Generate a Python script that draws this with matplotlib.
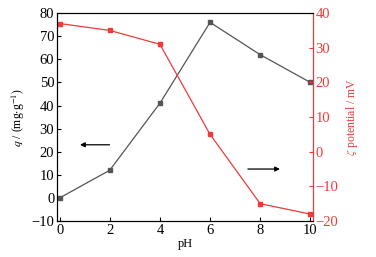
import matplotlib
matplotlib.use('Agg')
from matplotlib import pyplot as plt

plt.rcParams['font.family'] = ['Liberation Serif', 'DejaVu Serif']
plt.rcParams['mathtext.fontset'] = 'stix'

ph = [0, 2, 4, 6, 8, 10]
q = [0, 12, 41, 76, 62, 50]          # adsorption capacity, mg/g
zeta = [37, 35, 31, 5, -15, -18]     # zeta potential, mV

red = '#ee3b3b'
gray = '#555555'
fs = 10.5
lfs = 8.5

fig = plt.figure(figsize=(3.76, 2.57), dpi=100)
ax = fig.add_axes([0.152, 0.140, 0.680, 0.809])
ax.plot(ph, q, color=gray, lw=0.9, marker='s', ms=3.5, mfc=gray, mec=gray)
ax.set_xlim(-0.1, 10.1)
ax.set_ylim(-10, 80)
ax.set_xticks([0, 2, 4, 6, 8, 10])
ax.set_yticks(range(-10, 81, 10))
ax.tick_params(direction='in', length=3, labelsize=fs, pad=2)
ax.set_xlabel('pH', fontsize=lfs + 0.5, labelpad=1)
ax.set_ylabel(r'$q$ / (mg$\cdot$g$^{-1}$)', fontsize=lfs, labelpad=3)

ax2 = ax.twinx()
ax2.plot(ph, zeta, color=red, lw=0.9, marker='s', ms=3.5, mfc=red, mec=red)
ax2.set_ylim(-20, 40)
ax2.set_yticks(range(-20, 41, 10))
ax2.tick_params(direction='in', length=3, labelsize=fs, pad=2, colors=red)
ax2.spines['right'].set_color(red)
ax2.set_ylabel(r'$\zeta$ potential / mV', fontsize=lfs, color=red, labelpad=4)

# direction arrows
ax.annotate('', xy=(0.7, 23), xytext=(2.1, 23),
            arrowprops=dict(arrowstyle='-|>', color='black', lw=0.9, mutation_scale=7))
ax.annotate('', xy=(8.9, 12.5), xytext=(7.4, 12.5),
            arrowprops=dict(arrowstyle='-|>', color='black', lw=0.9, mutation_scale=7))

fig.savefig('out.png', dpi=100)
